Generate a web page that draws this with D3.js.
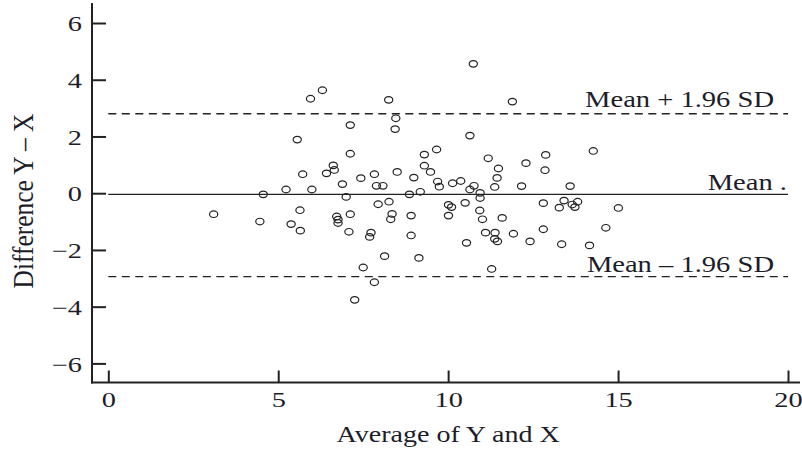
<!DOCTYPE html>
<html>
<head>
<meta charset="utf-8">
<script src="https://cdn.jsdelivr.net/npm/d3@7"></script>
<style>
  body { margin: 0; background: #fff; }
  svg { display: block; }
  text { font-family: "Liberation Serif", "Times New Roman", serif; fill: #1d1d29; }
</style>
</head>
<body>
<svg id="chart"></svg>
<script>
/* data */
var avgXY = [5.95, 6.30, 8.25, 10.74, 11.89, 8.46, 8.44, 7.12, 5.56, 10.64,
  7.12, 9.66, 9.30, 14.27, 12.87, 11.18, 6.62, 6.65, 6.42, 5.72,
  7.83, 8.50, 9.30, 9.48, 8.99, 7.43, 11.48, 12.29, 12.85, 11.44,
  6.89, 7.89, 8.08, 9.69, 9.74, 10.13, 10.37, 10.64, 10.76, 11.37,
  12.16, 13.59, 4.56, 5.23, 5.99, 7.00, 8.86, 9.18, 10.94, 10.94,
  3.10, 4.46, 5.64, 5.38, 5.65, 6.72, 6.76, 6.76, 7.12, 7.08,
  7.73, 7.69, 7.94, 8.26, 8.35, 8.31, 8.91, 8.91, 9.14, 8.13,
  7.50, 7.83, 7.25, 10.01, 10.10, 10.50, 10.01, 10.93, 11.01, 11.59,
  12.80, 13.41, 13.81, 13.27, 13.65, 13.73, 15.01, 10.54, 11.10, 11.38,
  11.37, 11.45, 11.92, 12.41, 12.80, 13.34, 14.16, 14.64, 11.28];
var diffYX = [3.33, 3.63, 3.29, 4.56, 3.23, 2.64, 2.26, 2.40, 1.89, 2.03,
  1.39, 1.54, 1.36, 1.49, 1.35, 1.23, 0.98, 0.82, 0.70, 0.67,
  0.67, 0.75, 0.97, 0.75, 0.55, 0.53, 0.87, 1.06, 0.81, 0.54,
  0.32, 0.26, 0.26, 0.41, 0.23, 0.35, 0.43, 0.13, 0.26, 0.22,
  0.25, 0.25, -0.04, 0.13, 0.13, -0.13, -0.04, 0.05, 0.01, -0.17,
  -0.74, -1.00, -0.60, -1.09, -1.32, -0.82, -0.93, -1.05, -0.74, -1.36,
  -1.39, -1.54, -0.39, -0.30, -0.73, -0.92, -0.79, -1.49, -2.28, -2.22,
  -2.62, -3.14, -3.76, -0.41, -0.49, -0.34, -0.79, -0.61, -0.92, -0.87,
  -0.35, -0.26, -0.30, -0.51, -0.40, -0.49, -0.52, -1.75, -1.39, -1.39,
  -1.61, -1.70, -1.43, -1.70, -1.27, -1.80, -1.84, -1.22, -2.67];
var meanDiff = -0.04;
var upperLimit = 2.80;
var lowerLimit = -2.94;
var lineLabels = ['Mean + 1.96 SD', 'Mean .', 'Mean \u2013 1.96 SD'];
var xTicks = [0, 5, 10, 15, 20];
var yTicks = [-6, -4, -2, 0, 2, 4, 6];
var xTitle = 'Average of Y and X';
var yTitle = 'Difference Y \u2013 X';

var width = 802;
var height = 454;
var axisX = 92;     // left axis line
var axisY = 382.5;  // bottom axis line
var ink = '#222';

var svg = d3.select('#chart')
    .attr('width', width)
    .attr('height', height);

var x = d3.scaleLinear().domain([0, 20]).range([108.3, 788]);
var y = d3.scaleLinear().domain([-6, 6]).range([363.4, 23]);

/* axis lines */
svg.append('line')
    .attr('x1', axisX).attr('x2', axisX)
    .attr('y1', 3).attr('y2', axisY + 1)
    .attr('stroke', ink).attr('stroke-width', 2);
svg.append('line')
    .attr('x1', axisX - 1).attr('x2', 800)
    .attr('y1', axisY).attr('y2', axisY)
    .attr('stroke', ink).attr('stroke-width', 2);

/* y axis, ticks point inward */
var gy = svg.append('g')
    .attr('transform', 'translate(' + axisX + ',0)')
    .call(d3.axisLeft(y).tickValues(yTicks).tickSizeInner(-14).tickSizeOuter(0));
gy.select('.domain').remove();
gy.selectAll('.tick line').attr('stroke', ink).attr('stroke-width', 2);
gy.selectAll('.tick text')
    .attr('font-size', 21)
    .attr('x', 0)
    .attr('transform', 'translate(-10,1) scale(1.35,1)');

/* x axis */
var gx = svg.append('g')
    .attr('transform', 'translate(0,' + axisY + ')')
    .call(d3.axisBottom(x).tickValues(xTicks).tickSizeInner(-12).tickSizeOuter(0));
gx.select('.domain').remove();
gx.selectAll('.tick line').attr('stroke', ink).attr('stroke-width', 2);
gx.selectAll('.tick text')
    .attr('font-size', 21)
    .attr('y', 0)
    .attr('transform', 'translate(0,9.6) scale(1.35,1)');

/* mean and limits of agreement */
var refLines = [
    {v: upperLimit, dash: '8,5.5', label: lineLabels[0], off: -7, end: 774},
    {v: meanDiff, dash: null, label: lineLabels[1], off: -4, end: 787},
    {v: lowerLimit, dash: '8,5.5', label: lineLabels[2], off: -5, end: 774}
];
refLines.forEach(function(r){
    svg.append('line')
        .attr('x1', x(0)).attr('x2', x(20))
        .attr('y1', y(r.v)).attr('y2', y(r.v))
        .attr('stroke', ink)
        .attr('stroke-width', 1.4)
        .attr('stroke-dasharray', r.dash);
    svg.append('text')
        .attr('transform', 'translate(' + r.end + ',' + (y(r.v) + r.off) + ') scale(1.19,1)')
        .attr('text-anchor', 'end')
        .attr('font-size', 24)
        .text(r.label);
});

/* points */
var points = avgXY.map(function(a, i){ return {a: a, d: diffYX[i]}; });
svg.selectAll('ellipse')
    .data(points)
    .enter()
    .append('ellipse')
    .attr('cx', function(d){ return x(d.a); })
    .attr('cy', function(d){ return y(d.d); })
    .attr('rx', 4.1)
    .attr('ry', 3.3)
    .attr('fill', 'none')
    .attr('stroke', ink)
    .attr('stroke-width', 1.2);

/* axis titles */
svg.append('text')
    .attr('transform', 'translate(' + x(10) + ',441.7) scale(1.17,1)')
    .attr('text-anchor', 'middle')
    .attr('font-size', 24)
    .text(xTitle);
svg.append('text')
    .attr('transform', 'translate(33,201) rotate(-90) scale(1.06,1.2)')
    .attr('text-anchor', 'middle')
    .attr('font-size', 24)
    .text(yTitle);
</script>
</body>
</html>
